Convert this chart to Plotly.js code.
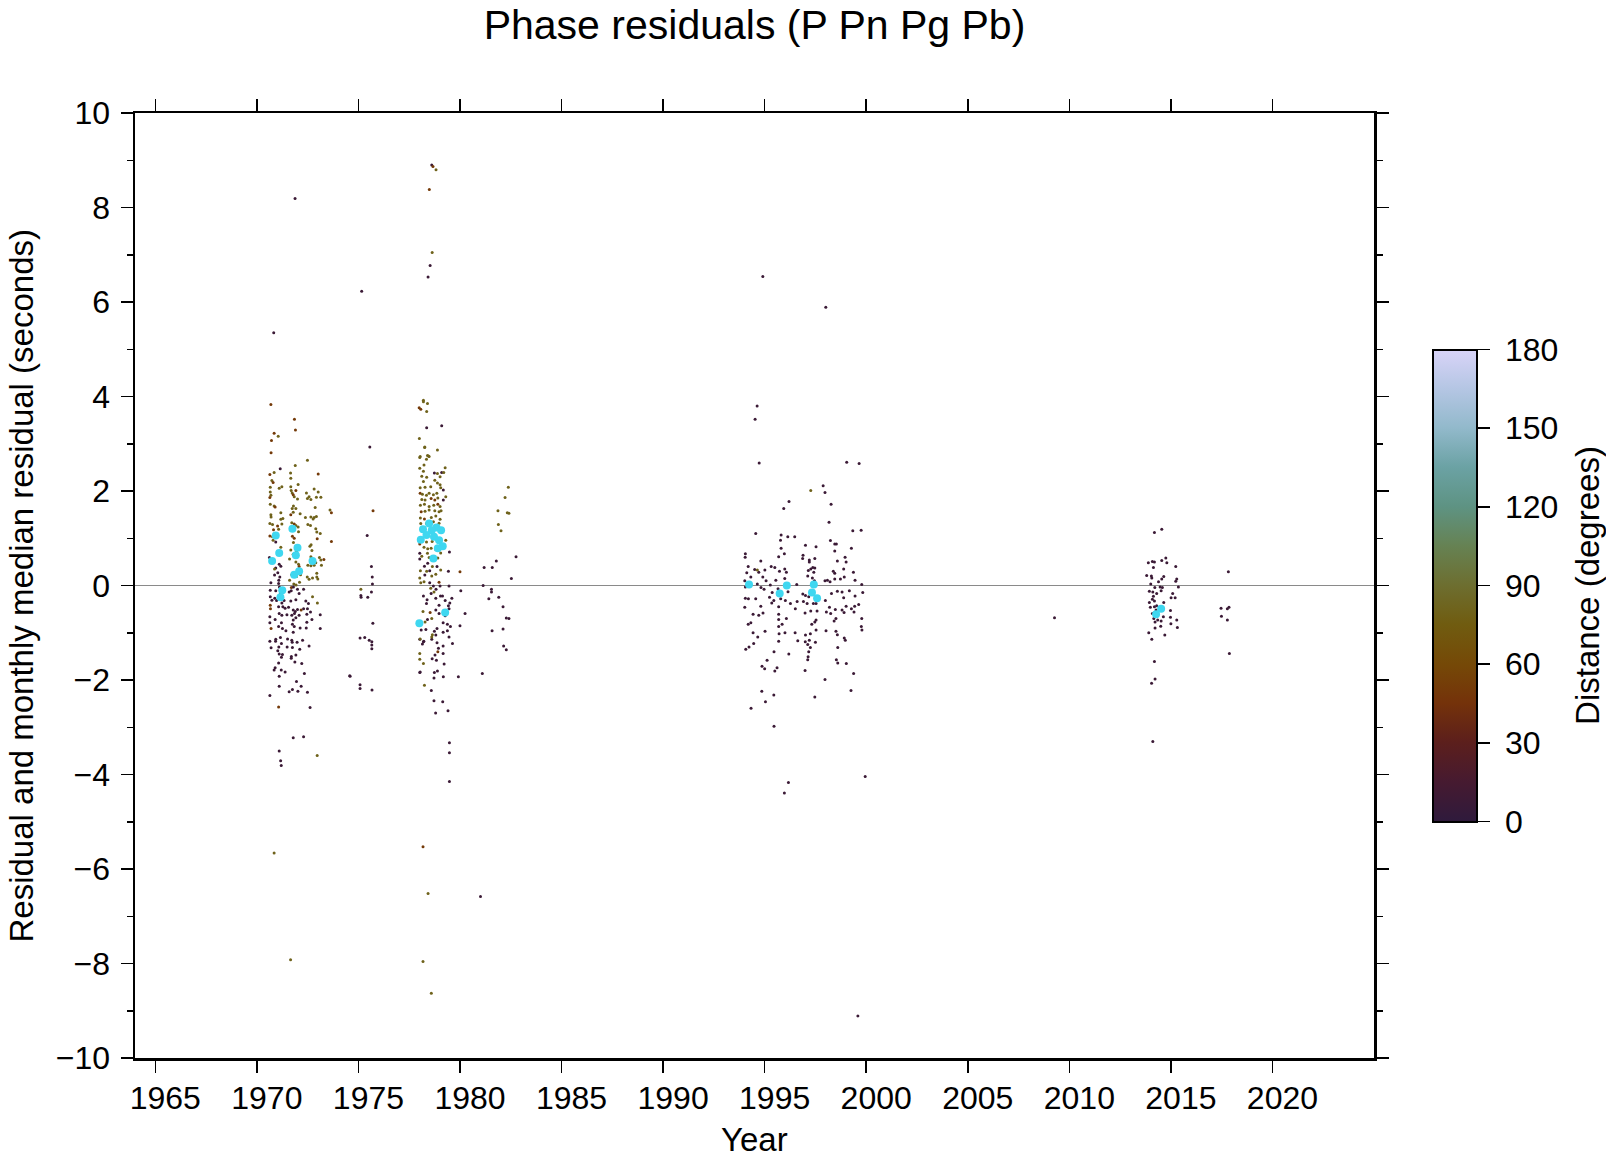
<!DOCTYPE html>
<html>
<head>
<meta charset="utf-8">
<script src="https://cdn.plot.ly/plotly-3.0.1.min.js"></script>
<style>html,body{margin:0;padding:0;background:#fff;}#chart{width:1606px;height:1161px;}</style>
</head>
<body>
<div id="chart"></div>
<script>
// [year, residual (s), distance (deg)]
const cluster1970 = [[1970.69,3.83,50],[1971.85,3.52,50],[1971.90,3.29,50],[1970.85,3.22,50],[1971.05,3.16,80],[1970.72,3.07,50],[1970.70,2.81,50],[1972.49,2.65,80],[1971.89,2.54,80],[1971.15,2.47,8],[1970.85,2.39,80],[1971.66,2.38,80],[1973.02,2.36,50],[1970.64,2.35,50],[1971.67,2.27,80],[1970.74,2.22,80],[1970.80,2.18,50],[1972.03,2.14,80],[1971.23,2.09,80],[1971.10,2.06,80],[1971.67,2.09,80],[1971.92,2.01,50],[1971.69,2.01,80],[1972.82,2.04,80],[1973.02,1.98,80],[1970.66,2.08,80],[1970.66,1.98,80],[1970.69,1.91,80],[1971.74,1.96,80],[1971.79,1.92,50],[1971.84,1.88,80],[1972.44,1.96,80],[1972.57,1.88,80],[1972.93,1.87,80],[1973.15,1.87,80],[1970.64,1.86,50],[1972.00,1.83,80],[1972.49,1.84,80],[1972.66,1.82,80],[1970.66,1.72,80],[1970.85,1.68,80],[1970.90,1.66,50],[1971.80,1.68,80],[1971.74,1.63,80],[1971.92,1.63,80],[1972.87,1.65,80],[1970.69,1.50,80],[1970.70,1.45,80],[1971.18,1.54,80],[1971.28,1.42,80],[1971.18,1.40,80],[1971.79,1.55,80],[1971.67,1.50,50],[1972.13,1.52,80],[1972.39,1.44,80],[1972.66,1.45,80],[1972.82,1.44,80],[1972.93,1.46,80],[1972.77,1.41,80],[1973.67,1.54,50],[1970.64,1.31,80],[1970.77,1.29,80],[1971.02,1.26,50],[1971.23,1.30,80],[1971.72,1.33,80],[1971.84,1.30,50],[1971.92,1.27,80],[1972.03,1.24,80],[1972.51,1.29,80],[1972.64,1.27,80],[1972.90,1.20,80],[1970.82,1.18,50],[1971.07,1.19,80],[1972.05,1.14,80],[1972.95,1.13,80],[1973.12,1.10,80],[1970.64,1.05,50],[1970.77,1.03,80],[1970.80,0.96,80],[1970.93,0.92,8],[1971.75,1.04,50],[1971.80,0.91,80],[1971.84,1.00,50],[1972.97,0.99,50],[1972.67,0.86,80],[1972.61,0.83,80],[1973.67,0.93,50],[1971.18,0.81,80],[1971.67,0.75,80],[1971.95,0.73,80],[1971.79,0.66,80],[1972.71,0.74,80],[1972.66,0.61,80],[1973.08,0.59,80],[1973.15,0.54,80],[1973.30,0.55,50],[1970.62,0.59,8],[1971.10,0.45,8],[1971.18,0.41,8],[1970.93,0.37,8],[1970.87,0.35,80],[1971.61,0.56,80],[1971.92,0.50,80],[1972.05,0.45,80],[1972.08,0.40,50],[1972.51,0.43,80],[1972.66,0.42,80],[1972.82,0.43,80],[1972.90,0.48,80],[1973.18,0.43,80],[1972.95,0.26,80],[1971.03,0.27,8],[1971.13,0.18,8],[1971.08,0.11,8],[1970.87,0.22,8],[1971.72,0.23,80],[1971.95,0.19,80],[1972.15,0.23,80],[1972.48,0.18,80],[1972.57,0.13,80],[1972.74,0.16,80],[1972.95,0.18,80],[1973.00,0.14,80],[1970.69,0.06,8],[1971.07,0.04,8],[1971.11,-0.03,8],[1971.61,0.11,80],[1971.82,0.03,80],[1971.93,0.01,80],[1972.10,0.07,80],[1971.70,-0.04,50],[1971.80,-0.03,8],[1972.00,-0.08,8],[1972.30,-0.08,8],[1970.66,-0.10,8],[1970.93,-0.11,8],[1971.18,-0.17,8],[1971.28,-0.15,8],[1971.59,-0.14,8],[1971.69,-0.11,8],[1972.08,-0.17,8],[1970.66,-0.24,8],[1970.88,-0.27,8],[1972.74,-0.24,80],[1970.74,-0.31,8],[1970.97,-0.32,8],[1971.23,-0.37,8],[1971.34,-0.32,8],[1971.67,-0.33,8],[1971.92,-0.30,8],[1972.41,-0.33,8],[1972.54,-0.38,8],[1970.66,-0.42,50],[1970.67,-0.49,50],[1971.07,-0.45,8],[1971.28,-0.45,8],[1971.39,-0.48,8],[1971.56,-0.46,8],[1971.79,-0.52,8],[1971.89,-0.55,8],[1972.00,-0.51,8],[1972.18,-0.52,50],[1972.30,-0.49,8],[1972.49,-0.49,8],[1972.64,-0.56,8],[1972.98,-0.37,80],[1971.10,-0.59,8],[1971.23,-0.63,8],[1971.48,-0.62,8],[1971.72,-0.63,8],[1971.85,-0.59,8],[1972.08,-0.63,8],[1972.46,-0.61,8],[1970.64,-0.66,8],[1970.90,-0.72,8],[1971.79,-0.73,8],[1971.92,-0.68,8],[1972.46,-0.78,8],[1972.71,-0.72,8],[1973.12,-0.62,8],[1970.64,-0.79,8],[1971.21,-0.79,8],[1971.75,-0.82,8],[1971.84,-0.87,8],[1971.07,-0.87,8],[1970.70,-0.91,50],[1971.26,-0.91,8],[1972.13,-0.90,8],[1972.43,-0.90,8],[1973.12,-0.91,8],[1971.43,-0.96,8],[1971.79,-0.99,8],[1971.16,-1.10,8],[1970.93,-1.14,8],[1971.51,-1.13,8],[1972.25,-1.16,8],[1971.72,-1.16,8],[1970.64,-1.18,8],[1970.92,-1.18,8],[1971.74,-1.20,8],[1971.98,-1.20,8],[1971.21,-1.23,8],[1970.70,-1.32,8],[1971.08,-1.30,8],[1971.49,-1.30,8],[1971.75,-1.31,8],[1972.11,-1.35,8],[1972.57,-1.28,8],[1971.03,-1.38,8],[1971.10,-1.45,8],[1971.26,-1.46,8],[1971.70,-1.50,8],[1971.92,-1.47,8],[1971.21,-1.52,8],[1971.69,-1.54,8],[1971.87,-1.62,8],[1972.21,-1.65,8],[1971.07,-1.64,8],[1970.90,-1.74,8],[1970.85,-1.79,8],[1971.20,-1.79,8],[1971.39,-1.83,8],[1972.34,-1.86,8],[1971.10,-1.92,8],[1974.57,-1.91,8],[1971.95,-2.03,8],[1972.18,-2.13,8],[1971.75,-2.20,8],[1971.10,-2.13,8],[1971.59,-2.25,8],[1972.02,-2.24,8],[1970.64,-2.33,8],[1971.07,-2.57,50],[1972.62,-2.58,8],[1971.79,-3.22,8],[1972.30,-3.20,8],[1971.10,-3.50,8],[1972.97,-3.60,80],[1971.17,-3.71,8],[1971.20,-3.81,8],[1970.85,-5.66,80],[1971.66,-7.92,80],[1970.83,5.35,8],[1971.88,8.19,8],[1973.60,1.60,80],[1972.49,-2.26,8]];

const cluster1975 = [[1975.56,2.93,8],[1975.72,1.58,50],[1975.43,1.06,8],[1975.64,0.40,8],[1975.68,0.18,8],[1975.69,0.03,8],[1975.12,-0.08,80],[1975.64,-0.14,8],[1975.12,-0.21,8],[1975.13,-0.25,8],[1975.46,-0.25,8],[1975.71,-0.80,8],[1975.08,-1.11,8],[1975.31,-1.10,8],[1975.53,-1.16,8],[1975.66,-1.19,8],[1975.66,-1.26,8],[1975.66,-1.34,8],[1974.59,-1.92,8],[1975.08,-2.10,8],[1975.08,-2.18,8],[1975.67,-2.21,8],[1975.16,6.23,8]];

const cluster1978 = [[1978.27,2.93,80],[1978.89,2.87,80],[1978.04,2.73,80],[1978.40,2.75,80],[1978.48,2.73,80],[1978.35,2.67,80],[1978.02,2.48,80],[1978.23,2.55,80],[1979.27,2.49,80],[1978.20,2.42,80],[1978.74,2.38,8],[1978.89,2.37,80],[1979.10,2.39,8],[1979.20,2.39,80],[1978.12,2.31,80],[1978.36,2.29,80],[1979.02,2.30,80],[1978.20,2.20,80],[1978.76,2.23,80],[1978.89,2.17,80],[1978.04,2.07,80],[1978.28,2.08,80],[1978.56,2.09,80],[1979.02,2.13,80],[1979.18,2.02,8],[1979.05,2.07,80],[1978.04,1.95,50],[1978.15,1.93,80],[1978.35,1.91,80],[1978.48,1.95,80],[1978.69,1.92,80],[1978.86,1.95,80],[1978.12,1.82,80],[1978.28,1.81,80],[1978.58,1.84,50],[1978.76,1.81,50],[1978.91,1.85,80],[1979.18,1.81,8],[1979.30,1.88,80],[1978.05,1.70,80],[1978.25,1.72,80],[1978.48,1.67,80],[1978.71,1.70,80],[1978.91,1.72,50],[1979.02,1.67,80],[1978.09,1.56,50],[1978.28,1.57,80],[1978.48,1.60,80],[1978.76,1.58,80],[1978.97,1.56,80],[1979.07,1.58,80],[1978.05,1.43,80],[1978.25,1.41,50],[1978.59,1.44,80],[1978.81,1.47,80],[1979.02,1.40,80],[1978.07,1.31,80],[1978.69,1.35,80],[1978.35,1.31,80],[1978.97,1.32,80],[1978.12,0.98,50],[1978.35,0.92,80],[1978.63,0.93,80],[1978.97,0.94,80],[1979.30,0.96,80],[1978.02,0.88,50],[1978.23,0.81,80],[1978.41,0.78,80],[1978.58,0.79,80],[1978.81,0.76,80],[1979.48,0.71,8],[1979.05,0.69,80],[1978.02,0.68,8],[1978.12,0.62,80],[1978.40,0.68,80],[1978.02,0.56,8],[1978.48,0.59,80],[1978.91,0.58,80],[1978.41,0.47,8],[1978.25,0.41,8],[1978.64,0.40,80],[1978.87,0.40,8],[1978.05,0.31,80],[1978.36,0.30,80],[1978.51,0.31,8],[1979.05,0.33,80],[1979.43,0.30,8],[1980.00,0.29,50],[1978.27,0.22,8],[1978.61,0.20,80],[1978.81,0.24,80],[1978.02,0.16,80],[1978.23,0.08,80],[1978.07,0.06,80],[1978.51,0.06,8],[1978.97,0.07,50],[1978.69,-0.01,8],[1979.02,-0.01,8],[1979.46,-0.01,8],[1978.56,-0.06,80],[1978.82,-0.08,8],[1978.20,-0.22,8],[1978.58,-0.17,8],[1978.72,-0.14,80],[1979.04,-0.22,8],[1979.14,-0.22,8],[1979.60,-0.27,8],[1978.38,-0.30,8],[1978.81,-0.27,8],[1979.27,-0.32,8],[1979.50,-0.37,8],[1980.04,-0.11,8],[1978.35,-0.38,8],[1978.97,-0.42,8],[1979.43,-0.43,8],[1979.46,-0.49,8],[1978.18,-0.55,80],[1978.81,-0.52,8],[1978.53,-0.57,50],[1978.97,-0.59,8],[1979.27,-0.64,8],[1980.25,-0.59,8],[1978.40,-0.72,8],[1978.61,-0.70,80],[1979.17,-0.79,8],[1979.38,-0.82,8],[1979.53,-0.87,8],[1980.00,-0.85,8],[1978.28,-0.77,80],[1978.09,-0.94,8],[1978.32,-0.93,8],[1978.74,-0.97,8],[1978.87,-0.91,8],[1979.17,-0.99,8],[1979.38,-0.96,8],[1978.64,-1.04,80],[1978.81,-1.05,8],[1978.02,-1.14,8],[1978.20,-1.19,8],[1978.15,-1.24,8],[1978.61,-1.14,8],[1978.87,-1.21,8],[1979.46,-1.09,8],[1979.63,-1.23,8],[1979.17,-1.28,8],[1978.94,-1.33,8],[1978.91,-1.40,50],[1978.77,-1.47,8],[1979.17,-1.44,8],[1978.02,-1.44,80],[1978.63,-1.55,8],[1978.84,-1.58,8],[1978.02,-1.56,80],[1978.20,-1.65,80],[1979.22,-1.66,8],[1978.04,-1.83,8],[1978.74,-1.84,8],[1978.89,-1.81,8],[1978.72,-1.96,8],[1979.18,-1.93,8],[1979.92,-1.93,8],[1978.25,-2.11,80],[1978.59,-2.22,8],[1978.61,8.90,8],[1978.67,8.87,50],[1978.82,8.80,80],[1978.49,8.38,50],[1978.63,7.05,80],[1978.53,6.77,8],[1978.43,6.53,8],[1978.20,3.92,80],[1978.20,3.89,80],[1978.40,3.85,80],[1977.99,3.76,50],[1978.07,3.73,50],[1978.36,3.68,80],[1978.36,3.34,8],[1979.10,3.38,8],[1978.00,3.11,80],[1978.26,2.92,80],[1978.45,2.74,80],[1978.02,2.71,80],[1978.04,-1.13,80],[1978.22,-1.18,8],[1978.61,-1.09,80],[1978.02,-1.84,8],[1978.72,-2.44,8],[1979.15,-2.46,8],[1978.80,-2.70,8],[1979.41,-2.65,8],[1979.48,-3.33,8],[1979.48,-3.54,8],[1979.48,-4.15,8],[1978.18,-5.53,50],[1978.43,-6.52,80],[1978.18,-7.96,80],[1978.59,-8.63,80]];

const cluster1981 = [[1982.38,2.08,80],[1982.22,1.86,80],[1981.87,1.58,80],[1982.33,1.54,80],[1982.41,1.53,80],[1981.89,1.29,80],[1982.02,1.16,80],[1982.76,0.61,8],[1981.79,0.52,8],[1981.19,0.38,8],[1981.59,0.38,8],[1982.53,0.15,8],[1981.14,0.00,8],[1981.55,-0.08,8],[1981.55,-0.14,8],[1981.91,-0.25,8],[1981.42,-0.28,8],[1982.12,-0.45,8],[1982.28,-0.69,8],[1982.41,-0.70,8],[1981.58,-0.96,8],[1982.12,-0.92,8],[1982.15,-1.28,8],[1982.28,-1.36,8],[1981.10,-1.86,8],[1981.01,-6.58,8]];

const cluster1990s = [[1994.73,2.59,8],[1999.04,2.61,8],[1999.65,2.58,8],[1997.27,2.01,80],[1997.88,2.11,8],[1997.97,1.97,8],[1996.20,1.78,8],[1995.94,1.63,8],[1998.27,1.72,8],[1998.17,1.34,8],[1999.34,1.16,8],[1999.75,1.17,8],[1994.56,1.10,8],[1995.81,1.07,8],[1996.14,1.03,8],[1996.48,1.03,8],[1995.78,0.96,8],[1997.01,0.85,8],[1997.53,0.82,8],[1998.24,0.95,8],[1998.45,0.88,8],[1998.53,0.88,8],[1995.81,0.79,8],[1999.27,0.79,8],[1998.45,0.73,8],[1994.05,0.67,8],[1994.04,0.60,8],[1995.97,0.67,8],[1995.69,0.61,8],[1996.89,0.64,8],[1997.47,0.57,8],[1997.20,0.54,8],[1998.58,0.52,8],[1998.96,0.60,8],[1994.81,0.52,8],[1999.01,0.50,8],[1997.20,0.50,8],[1996.87,0.57,8],[1994.19,0.40,8],[1994.51,0.34,8],[1995.32,0.40,8],[1995.50,0.38,8],[1995.01,0.33,8],[1995.73,0.30,8],[1995.99,0.35,8],[1996.07,0.28,8],[1997.27,0.35,8],[1997.37,0.38,8],[1997.47,0.37,8],[1997.15,0.32,8],[1997.42,0.28,8],[1998.38,0.30,8],[1998.45,0.26,8],[1998.89,0.35,8],[1999.37,0.28,8],[1994.12,0.27,8],[1994.71,0.28,8],[1994.32,0.18,8],[1994.91,0.18,8],[1995.07,0.10,8],[1994.64,0.03,8],[1995.28,0.01,8],[1995.55,0.11,8],[1995.99,0.15,8],[1996.58,0.02,8],[1997.12,0.20,8],[1997.35,0.16,8],[1997.45,0.10,8],[1997.97,0.10,8],[1998.09,0.11,8],[1998.22,0.08,8],[1998.45,0.14,8],[1998.73,0.14,8],[1998.92,0.18,8],[1999.45,0.11,8],[1999.78,0.02,8],[1994.02,0.10,8],[1994.05,-0.03,8],[1994.82,-0.04,8],[1994.97,-0.08,8],[1995.37,-0.15,8],[1995.66,-0.07,8],[1996.15,-0.13,8],[1996.88,-0.18,8],[1997.01,-0.21,8],[1997.17,-0.24,8],[1998.29,-0.17,8],[1998.58,-0.12,8],[1998.81,-0.14,8],[1999.17,-0.11,8],[1999.45,-0.22,8],[1999.83,-0.15,8],[1994.05,-0.27,8],[1994.20,-0.28,8],[1994.56,-0.28,8],[1995.24,-0.25,8],[1995.45,-0.32,8],[1995.79,-0.28,8],[1996.02,-0.32,8],[1996.27,-0.38,8],[1996.60,-0.34,8],[1996.91,-0.34,8],[1997.09,-0.38,8],[1997.40,-0.38,8],[1997.53,-0.38,8],[1997.99,-0.32,8],[1998.89,-0.26,8],[1999.01,-0.44,8],[1999.43,-0.44,8],[1999.63,-0.40,8],[1994.02,-0.46,8],[1994.81,-0.44,8],[1995.35,-0.37,8],[1995.69,-0.45,8],[1998.19,-0.46,8],[1998.48,-0.51,8],[1998.81,-0.52,8],[1994.43,-0.61,8],[1994.71,-0.63,8],[1994.92,-0.58,8],[1995.69,-0.61,8],[1996.51,-0.49,8],[1996.99,-0.58,8],[1997.27,-0.54,8],[1997.58,-0.54,8],[1998.04,-0.56,8],[1998.25,-0.59,8],[1998.91,-0.57,8],[1999.27,-0.49,8],[1999.40,-0.56,8],[1994.19,-0.82,8],[1994.32,-0.79,8],[1995.69,-0.72,8],[1996.07,-0.70,8],[1997.47,-0.77,8],[1997.53,-0.73,8],[1997.32,-0.82,8],[1998.42,-0.75,8],[1998.51,-0.70,8],[1999.78,-0.70,8],[1999.76,-0.87,8],[1999.79,-0.94,8],[1995.69,-0.87,8],[1995.86,-0.82,8],[1995.02,-0.97,8],[1996.50,-1.00,8],[1997.01,-1.05,8],[1997.25,-1.02,8],[1997.53,-0.94,8],[1998.02,-0.96,8],[1998.51,-0.97,8],[1998.58,-1.04,8],[1998.92,-1.11,8],[1998.97,-1.16,8],[1994.43,-1.00,8],[1994.66,-1.09,8],[1994.46,-1.23,8],[1994.07,-1.35,8],[1994.23,-1.30,8],[1995.71,-1.02,8],[1996.00,-1.00,8],[1995.69,-1.18,8],[1996.63,-1.17,8],[1997.00,-1.19,8],[1997.12,-1.25,8],[1997.20,-1.16,8],[1997.25,-1.31,8],[1997.17,-1.40,8],[1997.50,-1.20,8],[1998.60,-1.31,8],[1995.46,-1.40,8],[1996.19,-1.45,8],[1997.14,-1.51,8],[1997.12,-1.57,8],[1998.53,-1.57,8],[1998.60,-1.64,8],[1995.12,-1.58,8],[1999.02,-1.65,8],[1994.87,-1.71,8],[1995.00,-1.76,8],[1995.61,-1.74,8],[1995.50,-1.81,8],[1996.99,-1.80,8],[1999.38,-1.86,8],[1997.97,-1.99,8],[1994.86,-2.24,8],[1995.45,-2.32,8],[1995.04,-2.46,8],[1997.47,-2.36,8],[1999.25,-2.22,8],[1994.33,-2.60,8],[1994.91,6.54,8],[1998.01,5.89,8],[1994.63,3.80,8],[1994.53,3.52,8],[1995.46,-2.98,8],[1996.17,-4.17,8],[1995.97,-4.39,8],[1999.95,-4.04,8],[1999.59,-9.11,8],[1994.64,0.33,80]];

const cluster2009 = [[2009.27,-0.68,8]];

const cluster2014 = [[2014.19,1.12,8],[2014.55,1.19,8],[2014.75,0.58,8],[2013.89,0.48,8],[2014.09,0.51,8],[2014.19,0.50,8],[2014.55,0.53,8],[2014.80,0.48,8],[2014.14,0.38,8],[2015.24,0.40,8],[2013.81,0.21,8],[2014.04,0.20,8],[2014.06,0.16,8],[2014.65,0.19,8],[2014.55,0.14,8],[2015.29,0.14,8],[2015.24,0.09,8],[2014.39,0.08,8],[2014.01,0.03,8],[2014.21,-0.04,8],[2014.47,-0.03,8],[2014.58,-0.04,8],[2015.37,-0.03,8],[2013.94,-0.12,8],[2014.11,-0.14,8],[2014.30,-0.17,8],[2014.52,-0.11,8],[2015.09,-0.17,8],[2014.14,-0.23,8],[2015.01,-0.26,8],[2015.21,-0.26,8],[2014.09,-0.29,8],[2014.19,-0.33,8],[2013.94,-0.36,8],[2014.65,-0.36,8],[2013.99,-0.46,8],[2014.19,-0.45,8],[2014.30,-0.43,8],[2014.27,-0.52,8],[2014.98,-0.53,8],[2014.09,-0.59,8],[2014.63,-0.66,8],[2014.16,-0.70,8],[2014.35,-0.73,8],[2014.52,-0.75,8],[2014.98,-0.67,8],[2015.29,-0.73,8],[2014.22,-0.77,8],[2014.50,-0.86,8],[2015.00,-0.81,8],[2014.22,-0.90,8],[2015.32,-0.89,8],[2013.91,-1.00,8],[2014.70,-1.05,8],[2014.06,-1.14,8],[2014.19,-1.61,8],[2014.22,-1.98,8],[2014.05,-2.07,8],[2014.11,-3.30,8]];

const cluster2017 = [[2017.83,0.29,8],[2017.47,-0.48,8],[2017.78,-0.49,8],[2017.86,-0.46,8],[2017.49,-0.65,8],[2017.78,-0.73,8],[2017.88,-1.44,8]];

// monthly median residuals [year, residual]
const monthlyMedian = [[1971.75,1.20],[1970.93,1.06],[1972.00,0.80],[1971.10,0.69],[1971.92,0.64],[1970.75,0.52],[1972.74,0.52],[1972.08,0.30],[1971.84,0.23],[1971.25,-0.10],[1971.16,-0.25],[1978.18,1.19],[1978.48,1.31],[1978.84,1.23],[1979.07,1.17],[1978.61,1.17],[1978.35,1.07],[1978.72,1.03],[1978.07,0.97],[1978.97,0.96],[1978.91,0.79],[1979.15,0.83],[1978.69,0.57],[1979.27,-0.57],[1978.00,-0.80],[1994.23,0.02],[1996.09,0.00],[1995.74,-0.17],[1997.42,0.02],[1997.33,-0.15],[1997.58,-0.27],[2014.52,-0.49],[2014.27,-0.61]];

const yearTicks = [1965,1970,1975,1980,1985,1990,1995,2000,2005,2010,2015,2020];
const distTicks = [0,30,60,90,120,150,180];

const all = [].concat(cluster1970, cluster1975, cluster1978, cluster1981, cluster1990s, cluster2009, cluster2014, cluster2017);

const cubehelix = [
  [0.000,'#2f1a3c'],[0.083,'#461a30'],[0.167,'#5c1f1c'],[0.250,'#74320a'],
  [0.333,'#754907'],[0.417,'#705c10'],[0.500,'#6d6e30'],[0.583,'#668253'],
  [0.667,'#5e9383'],[0.750,'#6ba2a4'],[0.833,'#92b9cb'],[0.917,'#b5c6e4'],[1.000,'#d9d4f8']
];

const font = 'Liberation Sans, Arial, Helvetica, sans-serif';

const traces = [
  {
    type:'scatter', mode:'markers', name:'residual',
    x: all.map(d=>d[0]), y: all.map(d=>d[1]),
    marker:{size:3, color: all.map(d=>d[2]), colorscale:cubehelix, cmin:0, cmax:180,
      line:{width:0},
      showscale:true,
      colorbar:{
        thickness:44, thicknessmode:'pixels', len:472, lenmode:'pixels',
        x:1.048, xanchor:'left', y:0.5, yanchor:'middle', xpad:0, ypad:0,
        outlinewidth:2, outlinecolor:'#000', bgcolor:'rgba(0,0,0,0)',
        tickvals:distTicks, ticktext:distTicks.map(v => '\u2009\u200A' + v), ticks:'outside', ticklen:12, tickwidth:1.5, tickcolor:'#000',
        tickfont:{family:font, size:32, color:'#000'}
      }
    },
    showlegend:false, hoverinfo:'x+y'
  },
  {
    type:'scatter', mode:'markers', name:'monthly median',
    x: monthlyMedian.map(d=>d[0]), y: monthlyMedian.map(d=>d[1]),
    marker:{size:8, color:'#3fd7f0', line:{width:0}},
    showlegend:false, hoverinfo:'x+y'
  }
];

const layout = {
  width:1606, height:1161,
  margin:{l:135, r:231.5, t:113, b:103, pad:0, autoexpand:false},
  paper_bgcolor:'#fff', plot_bgcolor:'#fff',
  font:{family:font, size:32, color:'#000'},
  showlegend:false,
  title:{text:'Phase residuals (P Pn Pg Pb)', font:{family:font, size:41, color:'#000'},
         x:0.5, xref:'paper', xanchor:'center', y:1-25/1161, yref:'container', yanchor:'middle'},
  xaxis:{
    range:[1964,2025], tickvals:yearTicks, ticktext:yearTicks.map(String),
    ticks:'outside', ticklen:12, tickwidth:1.5, tickcolor:'#000',
    ticklabelstandoff:-2, ticklabelshift:10,
    showline:true, linewidth:2.5, linecolor:'#000', mirror:'allticks',
    showgrid:false, zeroline:false, automargin:false,
    tickfont:{family:font, size:32}
  },
  yaxis:{
    range:[-10,10], tick0:0, dtick:2,
    ticks:'outside', ticklen:12, tickwidth:1.5, tickcolor:'#000',
    minor:{dtick:1, tick0:0, ticks:'outside', ticklen:6, tickwidth:1.5, tickcolor:'#000', showgrid:false},
    ticklabelstandoff:4,
    showline:true, linewidth:2.5, linecolor:'#000', mirror:'allticks',
    showgrid:false, zeroline:true, zerolinecolor:'#8a8a8a', zerolinewidth:1.5,
    automargin:false,
    tickfont:{family:font, size:32}
  },
  annotations:[
    {text:'Year', showarrow:false, xref:'paper', yref:'paper',
     x:0.5, y:(1058-1139)/945, xanchor:'center', yanchor:'middle',
     font:{family:font, size:33, color:'#000'}},
    {text:'Residual and monthly median residual (seconds)', textangle:-90, showarrow:false,
     xref:'paper', yref:'paper', x:(21-135)/1239.5, y:0.5, xanchor:'center', yanchor:'middle',
     font:{family:font, size:33, color:'#000'}},
    {text:'Distance (degrees)', textangle:-90, showarrow:false,
     xref:'paper', yref:'paper', x:(1588-135)/1239.5, y:0.5, xanchor:'center', yanchor:'middle',
     font:{family:font, size:33, color:'#000'}}
  ]
};

Plotly.newPlot('chart', traces, layout, {staticPlot:true, displayModeBar:false});
</script>
</body>
</html>
